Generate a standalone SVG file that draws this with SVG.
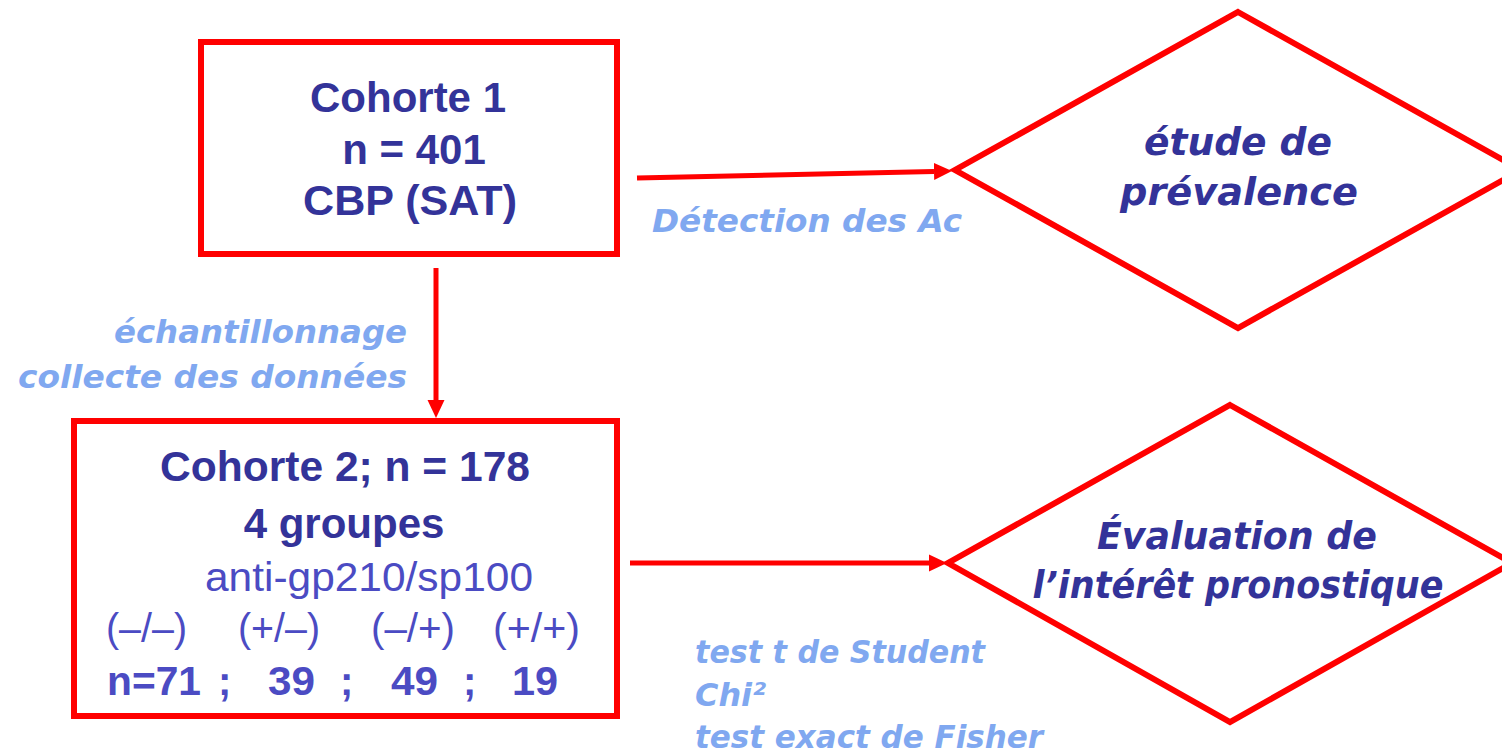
<svg xmlns="http://www.w3.org/2000/svg" width="1502" height="754" viewBox="0 0 1502 754">
<style>
.box{fill:#FFFFFF;stroke:#FF0000;stroke-width:6}
.dia{fill:#FFFFFF;stroke:#FF0000;stroke-width:6;stroke-linejoin:miter}
.conn{fill:none;stroke:#FF0000;stroke-width:5}
.b{font-family:"Liberation Sans",Arial,sans-serif;font-weight:bold;font-size:42px;fill:#333399}
.r{font-family:"Liberation Sans",Arial,sans-serif;font-size:40px;fill:#4B4BC3}
.rb{font-family:"Liberation Sans",Arial,sans-serif;font-weight:bold;font-size:40px;fill:#4B4BC3}
.it{font-family:"DejaVu Sans","Liberation Sans",sans-serif;font-weight:bold;font-style:italic;fill:#333399}
.lbl{font-family:"DejaVu Sans","Liberation Sans",sans-serif;font-weight:bold;font-style:italic;font-size:32px;fill:#80A8F0}
</style>
<defs>
<marker id="ah" markerUnits="userSpaceOnUse" markerWidth="18" markerHeight="18" refX="0" refY="8.5" orient="auto" viewBox="0 0 18 17">
<path d="M0,0 L18,8.5 L0,17 z" fill="#FF0000"/>
</marker>
</defs>
<g id="connectors">
<line class="conn" x1="637" y1="178" x2="934" y2="171.4" marker-end="url(#ah)"/>
<line class="conn" x1="436" y1="268" x2="436" y2="400" marker-end="url(#ah)"/>
<line class="conn" x1="630" y1="563" x2="929" y2="563" marker-end="url(#ah)"/>
</g>
<g id="cohorte1">
<rect class="box" x="201" y="42" width="416" height="212"/>
<text class="b" x="408" y="112" text-anchor="middle">Cohorte 1</text>
<text class="b" x="414" y="164" text-anchor="middle">n = 401</text>
<text class="b" x="410" y="215" text-anchor="middle" textLength="214" lengthAdjust="spacingAndGlyphs">CBP (SAT)</text>
</g>
<g id="cohorte2">
<rect class="box" x="74" y="421" width="543" height="295"/>
<text class="b" x="345" y="481" text-anchor="middle" textLength="370" lengthAdjust="spacingAndGlyphs">Cohorte 2; n = 178</text>
<text class="b" x="344" y="538" text-anchor="middle">4 groupes</text>
<text class="r" x="369" y="591" text-anchor="middle" textLength="328" lengthAdjust="spacingAndGlyphs">anti-gp210/sp100</text>
<text class="r" x="106" y="642" textLength="81" lengthAdjust="spacingAndGlyphs">(–/–)</text>
<text class="r" x="238" y="642" textLength="82" lengthAdjust="spacingAndGlyphs">(+/–)</text>
<text class="r" x="371" y="642" textLength="84" lengthAdjust="spacingAndGlyphs">(–/+)</text>
<text class="r" x="493" y="642" textLength="87" lengthAdjust="spacingAndGlyphs">(+/+)</text>
<text class="rb" x="107" y="695" textLength="94" lengthAdjust="spacingAndGlyphs">n=71</text>
<text class="rb" x="218" y="695">;</text>
<text class="rb" x="268" y="695" textLength="47" lengthAdjust="spacingAndGlyphs">39</text>
<text class="rb" x="340" y="695">;</text>
<text class="rb" x="391" y="695" textLength="47" lengthAdjust="spacingAndGlyphs">49</text>
<text class="rb" x="463" y="695">;</text>
<text class="rb" x="512" y="695" textLength="46" lengthAdjust="spacingAndGlyphs">19</text>
</g>
<g id="prevalence">
<polygon class="dia" points="1238,12 1521,170 1238,328 955,170"/>
<text class="it" font-size="37" x="1238" y="155" text-anchor="middle" textLength="188" lengthAdjust="spacingAndGlyphs">étude de</text>
<text class="it" font-size="37" x="1239" y="205" text-anchor="middle" textLength="238" lengthAdjust="spacingAndGlyphs">prévalence</text>
</g>
<g id="pronostic">
<polygon class="dia" points="1230,405 1512,563 1230,722 948,563"/>
<text class="it" font-size="37" x="1237" y="549" text-anchor="middle" textLength="280" lengthAdjust="spacingAndGlyphs">Évaluation de</text>
<text class="it" font-size="37" x="1238" y="598" text-anchor="middle" textLength="411" lengthAdjust="spacingAndGlyphs">l’intérêt pronostique</text>
</g>
<g id="labels">
<text class="lbl" x="652" y="232" textLength="310" lengthAdjust="spacingAndGlyphs">Détection des Ac</text>
<text class="lbl" x="407" y="343" text-anchor="end" textLength="293" lengthAdjust="spacingAndGlyphs">échantillonnage</text>
<text class="lbl" x="407" y="388" text-anchor="end" textLength="389" lengthAdjust="spacingAndGlyphs">collecte des données</text>
<text class="lbl" x="695" y="663" textLength="290" lengthAdjust="spacingAndGlyphs">test t de Student</text>
<text class="lbl" x="695" y="706" textLength="71" lengthAdjust="spacingAndGlyphs">Chi²</text>
<text class="lbl" x="695" y="748" textLength="348" lengthAdjust="spacingAndGlyphs">test exact de Fisher</text>
</g>
</svg>
